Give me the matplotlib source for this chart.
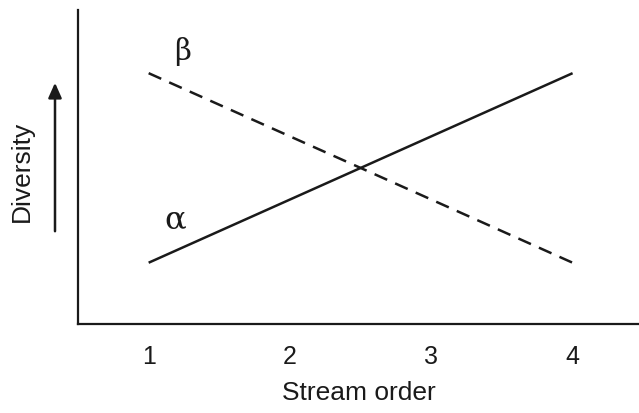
import matplotlib
matplotlib.use("Agg")
import matplotlib.pyplot as plt

stream_order = [1, 4]
alpha_div = [1, 4]
beta_div = [4, 1]
xtick_labels = ["1", "2", "3", "4"]
xticks = [1, 2, 3, 4]

plt.rcParams['font.family'] = ['Liberation Sans', 'DejaVu Sans']

fig = plt.figure(figsize=(6.39, 4.13), dpi=100)
ax = fig.add_axes([78/639, 1 - 324/413, 1 - 78/639, (324 - 10)/413])

ax.plot(stream_order, alpha_div, color='#1a1a1a', lw=1.8, solid_capstyle='butt')
ax.plot(stream_order, beta_div, color='#1a1a1a', lw=1.8, dashes=(5.5, 3.5), dash_capstyle='butt')

ax.set_xlim(0.5, 4.47)
ax.set_ylim(0.03, 5)
ax.spines['top'].set_visible(False)
ax.spines['right'].set_visible(False)
for s in ['left', 'bottom']:
    ax.spines[s].set_linewidth(1.6)
    ax.spines[s].set_color('#1a1a1a')
ax.set_xticks(xticks)
ax.set_xticklabels(xtick_labels, fontsize=18, color='#1a1a1a')
ax.set_yticks([])
ax.tick_params(axis='x', length=0, pad=15)
ax.set_xlabel("Stream order", fontsize=19, color='#1a1a1a', labelpad=9)

ax.text(1.24, 4.35, "β", fontsize=21, family='DejaVu Serif', ha='center', va='center', color='#1a1a1a')
ax.text(1.19, 1.68, "α", fontsize=23, family='DejaVu Serif', ha='center', va='center', color='#1a1a1a')

fig.text(22/639, 1 - 171/413, "Diversity", rotation=90, fontsize=19, ha='center', va='center', color='#1a1a1a')
fig.add_artist(matplotlib.patches.FancyArrowPatch(
    (55/639, 1 - 234/413), (55/639, 1 - 80/413), transform=fig.transFigure,
    arrowstyle='-|>,head_length=9,head_width=4', color='#1a1a1a', lw=1.8, mutation_scale=1))

fig.savefig("out.png", dpi=100)
